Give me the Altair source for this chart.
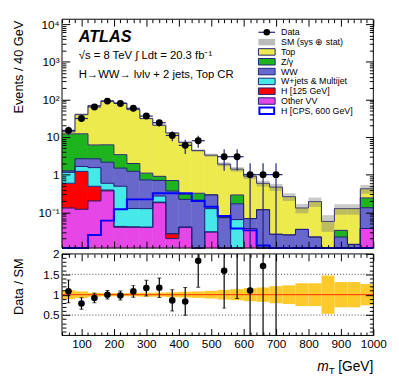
import math
import altair as alt
import pandas as pd

FONT = "Liberation Sans"
NAVY = "#20207a"

# ---------------- values ----------------
bin_lo = [40, 80, 120, 160, 200, 240, 280, 320, 360, 400, 440, 480,
          520, 560, 600, 640, 680, 720, 760, 800, 840, 880, 920, 960]
BIN_W = 40
data_n = [15, 31, 63, 90, 78, 58, 36, 24, 11, 6, 8, 0,
          3, 3, 1, 1, 1, 0, 0, 0, 0, 0, 0, 0]
comp_names = ["Other VV", "H [125 GeV]", "W+jets & Multijet", "WW", "Z/γ", "Top"]
comp_colors = ["#e646e6", "#ff0000", "#46e8e8", "#6868cc", "#1eb41e", "#ecea4c"]
other_vv = [0.13, 0.12, 0.20, 0.37, 0.04, 0.04, 0.04, 0.18, 0.02, 0.04, 0.0, 0.03,
            0.0, 0.0, 0.037, 0.0, 0.0, 0.0, 0.0, 0.0, 0.0, 0.0, 0.0, 0.037]
h125 = [0.46, 1.10, 0.29, 0.02, 0.002, 0.001, 0.0, 0.006, 0.007, 0.0, 0.0, 0.0,
        0.0, 0.0, 0.0, 0.0, 0.0, 0.0, 0.0, 0.0, 0.0, 0.0, 0.0, 0.0]
wjets = [0.56, 0.43, 1.05, 0.20, 0.45, 0.085, 0.085, 0.085, 0.0, 0.0, 0.0, 0.095,
         0.0, 0.064, 0.0, 0.0, 0.0, 0.0, 0.0, 0.0, 0.0, 0.0, 0.0, 0.0]
ww = [0.11, 1.0, 1.1, 1.55, 1.0, 1.1, 0.6, 0.43, 0.34, 0.18, 0.21, 0.165,
      0.072, 0.104, 0.031, 0.117, 0.026, 0.025, 0.035, 0.022, 0.0, 0.022, 0.014, 0.095]
zgam = [10.8, 9.5, 3.5, 4.05, 1.9, 0.75, 0.37, 0.2, 0.33, 0.08, 0.11, 0.0,
        0.0, 0.12, 0.0, 0.0, 0.0, 0.0, 0.0, 0.0, 0.0, 0.011, 0.0, 0.108]
top = [1.8, 27.5, 62.4, 83.8, 76.2, 51.7, 29.9, 19.6, 12.1, 6.9, 4.05, 3.0,
       1.82, 1.11, 0.84, 0.47, 0.44, 0.235, 0.095, 0.17, 0.057, 0.092, 0.111, 0.18]
h600 = [0.0, 0.0, 0.025, 0.06, 0.12, 0.22, 0.22, 0.32, 0.32, 0.32, 0.2, 0.14,
        0.08, 0.037, 0.033, 0.013, 0.0, 0.0, 0.0, 0.0, 0.0, 0.0, 0.0, 0.0]
sys_rel = [0.11, 0.08, 0.05, 0.04, 0.04, 0.04, 0.05, 0.05, 0.06, 0.07, 0.08, 0.095,
           0.12, 0.135, 0.16, 0.175, 0.21, 0.23, 0.28, 0.28, 0.47, 0.31, 0.31, 0.26]
legend_labels = ["Data", "SM (sys ⊕ stat)", "Top", "Z/γ", "WW", "W+jets & Multijet",
                 "H [125 GeV]", "Other VV", "H [CPS, 600 GeV]"]
x_major = [100, 200, 300, 400, 500, 600, 700, 800, 900, 1000]
y_major = [0.1, 1, 10, 100, 1000, 10000]
r_major = [0.5, 1, 1.5, 2]
r_grid = [0.5, 1, 1.5]
r_ref = [1.0]

# ---------------- layout ----------------
W, HM, HR = 317, 233, 83
YMIN, YMAX = 0.0112, 13500.0
FLOOR = 1e-4

nb = len(bin_lo)
comps = [other_vv, h125, wjets, ww, zgam, top]
total = [sum(c[i] for c in comps) for i in range(nb)]

stack_rows, line_rows = [], []
for k, c in enumerate(comps):
    hi = 0
    for i in range(nb):
        lo = sum(comps[j][i] for j in range(k))
        hi = lo + c[i]
        if c[i] > 0:
            stack_rows.append({"x": bin_lo[i], "x2": bin_lo[i] + BIN_W,
                               "y": max(lo, FLOOR), "y2": hi, "comp": comp_names[k]})
        line_rows.append({"x": bin_lo[i], "y": max(hi, FLOOR), "lvl": k})
    line_rows.append({"x": bin_lo[-1] + BIN_W, "y": max(hi, FLOOR), "lvl": k})
stack_df = pd.DataFrame(stack_rows)
line_df = pd.DataFrame(line_rows)

band_df = pd.DataFrame({"x": bin_lo, "x2": [b + BIN_W for b in bin_lo],
                        "y": [t * (1 - u) for t, u in zip(total, sys_rel)],
                        "y2": [t * (1 + u) for t, u in zip(total, sys_rel)],
                        "ry": [1 - u for u in sys_rel], "ry2": [1 + u for u in sys_rel]})
h6_df = pd.DataFrame({"x": bin_lo + [bin_lo[-1] + BIN_W],
                      "y": [max(v, FLOOR) for v in h600 + [h600[-1]]]})

drows = []
for i, nn in enumerate(data_n):
    if nn > 0:
        s = math.sqrt(nn)
        drows.append({"x": bin_lo[i] + BIN_W / 2, "xa": bin_lo[i], "xb": bin_lo[i] + BIN_W,
                      "n": nn, "lo": max(nn - s, FLOOR), "hi": nn + s,
                      "r": nn / total[i], "rlo": (nn - s) / total[i], "rhi": (nn + s) / total[i]})
data_df = pd.DataFrame(drows)
cap_df = pd.concat([data_df[["x", "rlo"]].rename(columns={"rlo": "c"}),
                    data_df[["x", "rhi"]].rename(columns={"rhi": "c"})])

xsc = alt.Scale(domain=[40, 1000], nice=False, zero=False)
ysc = alt.Scale(type="log", domain=[YMIN, YMAX], clamp=True, nice=False)
rsc = alt.Scale(domain=[0, 2], nice=False, zero=False)

x_minor = [v for v in range(40, 1001, 20) if v % 100]
y_minor = [m * 10 ** e for e in range(-2, 5) for m in range(2, 10) if YMIN <= m * 10 ** e <= YMAX]
r_minor = [round(0.1 * i, 1) for i in range(1, 20) if i % 5]


def tk(orient, values, size, **extra):
    d = dict(orient=orient, values=values, tickSize=size, offset=-size, labels=False,
             domain=False, grid=False, title=None, ticks=True, tickColor="black",
             tickWidth=1, zindex=1)
    d.update(extra)
    return alt.Axis(**d)


lab = dict(labels=True, labelFont=FONT, labelFontSize=12, labelColor="black",
           labelPadding=3, labelFlush=False, labelOverlap=False, labelBound=False)
ttl = dict(titleFont=FONT, titleFontSize=13, titleFontWeight="normal", titleColor="black",
           titleAngle=270, titleAlign="right", titleBaseline="middle", titleX=-52)

ylab_expr = ("datum.value < 0.5 ? '10⁻¹' : datum.value < 5 ? '1' : datum.value < 50 ? '10' : "
             "datum.value < 500 ? '10²' : datum.value < 5000 ? '10³' : '10⁴'")

one = pd.DataFrame({"k": [0]})


def frame(h):
    return alt.Chart(one).mark_rect(fill="transparent", stroke="black", strokeWidth=1).encode(
        x=alt.value(0), x2=alt.value(W), y=alt.value(0), y2=alt.value(h))


def text(txt, x, y, size, **kw):
    return alt.Chart(pd.DataFrame({"t": [txt]})).mark_text(
        align=kw.pop("align", "left"), baseline=kw.pop("baseline", "alphabetic"),
        font=FONT, fontSize=size, color="black", **kw).encode(
        text="t:N", x=alt.value(x), y=alt.value(y))


# ---------------- main panel ----------------
stack = alt.Chart(stack_df).mark_rect(strokeWidth=0.5).encode(
    x=alt.X("x:Q", scale=xsc, axis=tk("bottom", x_major, 7)),
    x2="x2:Q",
    y=alt.Y("y:Q", scale=ysc, axis=tk("left", y_major, 8, labelExpr=ylab_expr,
                                      title="Events / 40 GeV", titleY=1, **lab, **ttl)),
    y2="y2:Q",
    color=alt.Color("comp:N", scale=alt.Scale(domain=comp_names, range=comp_colors), legend=None),
    stroke=alt.Stroke("comp:N", scale=alt.Scale(domain=comp_names, range=comp_colors), legend=None),
)
outline = alt.Chart(line_df).mark_line(interpolate="step-after", color=NAVY, strokeWidth=1).encode(
    x=alt.X("x:Q", scale=xsc, axis=tk("bottom", x_minor, 3.5)),
    y=alt.Y("y:Q", scale=ysc, axis=tk("left", y_minor, 4)),
    detail="lvl:N",
)
band = alt.Chart(band_df).mark_rect(color="#7a7a7a", opacity=0.4).encode(
    x=alt.X("x:Q", scale=xsc, axis=tk("top", x_major, 7)),
    x2="x2:Q",
    y=alt.Y("y:Q", scale=ysc, axis=tk("right", y_major, 8)),
    y2="y2:Q",
)
hline = alt.Chart(h6_df).mark_line(interpolate="step-after", color="#0000ff", strokeWidth=2).encode(
    x=alt.X("x:Q", scale=xsc, axis=tk("top", x_minor, 3.5)),
    y=alt.Y("y:Q", scale=ysc, axis=tk("right", y_minor, 4)),
)
err_v = alt.Chart(data_df).mark_rule(color=NAVY, strokeWidth=1.2).encode(
    x=alt.X("x:Q", scale=xsc, axis=None),
    y=alt.Y("lo:Q", scale=ysc, axis=None), y2="hi:Q")
err_h = alt.Chart(data_df).mark_rule(color=NAVY, strokeWidth=1.2).encode(
    x=alt.X("xa:Q", scale=xsc, axis=None), x2="xb:Q",
    y=alt.Y("n:Q", scale=ysc, axis=None))
pts = alt.Chart(data_df).mark_circle(color="black", opacity=1, size=50).encode(
    x=alt.X("x:Q", scale=xsc, axis=None),
    y=alt.Y("n:Q", scale=ysc, axis=None))

texts = [
    text("ATLAS", 17, 23, 16.5, fontWeight="bold", fontStyle="italic"),
    text("√s = 8 TeV  ∫ Ldt =  20.3 fb⁻¹", 17, 40, 11.5),
    text("H→WW→ lνlν + 2 jets, Top CR", 17, 59.5, 11.5),
]

leg_df = pd.DataFrame({"label": legend_labels, "idx": list(range(len(legend_labels)))})
leg_base = alt.Chart(leg_df).transform_calculate(
    yc="13.3 + 10 * datum.idx", y0="13.3 + 10 * datum.idx - 3.3", y1="13.3 + 10 * datum.idx + 3.3")
leg_text = leg_base.mark_text(align="left", baseline="middle", font=FONT, fontSize=9, color="black").encode(
    text="label:N", x=alt.value(223), y=alt.Y("yc:Q", scale=None, axis=None))
box_fill = {"Top": comp_colors[5], "Z/γ": comp_colors[4], "WW": comp_colors[3],
            "W+jets & Multijet": comp_colors[2], "H [125 GeV]": comp_colors[1],
            "Other VV": comp_colors[0]}
leg_boxes = leg_base.transform_filter(
    alt.FieldOneOfPredicate(field="label", oneOf=list(box_fill))).mark_rect(
    stroke=NAVY, strokeWidth=1).encode(
    x=alt.value(200), x2=alt.value(217), y=alt.Y("y0:Q", scale=None, axis=None), y2="y1:Q",
    fill=alt.Fill("label:N", scale=alt.Scale(domain=list(box_fill), range=list(box_fill.values())),
                  legend=None))
leg_sm = leg_base.transform_filter("datum.idx == 1").mark_rect(color="#7a7a7a", opacity=0.5).encode(
    x=alt.value(200), x2=alt.value(217), y=alt.Y("y0:Q", scale=None, axis=None), y2="y1:Q")
leg_h6 = leg_base.transform_filter("datum.idx == 8").mark_rect(fill="white", stroke="#0000ff",
                                                               strokeWidth=2).encode(
    x=alt.value(201), x2=alt.value(216), y=alt.Y("y0:Q", scale=None, axis=None), y2="y1:Q")
leg_dl = leg_base.transform_filter("datum.idx == 0").mark_rule(color=NAVY, strokeWidth=1.2).encode(
    x=alt.value(200), x2=alt.value(217), y=alt.Y("yc:Q", scale=None, axis=None))
leg_dp = leg_base.transform_filter("datum.idx == 0").mark_circle(color="black", opacity=1, size=45).encode(
    x=alt.value(208.5), y=alt.Y("yc:Q", scale=None, axis=None))

main = alt.layer(stack, outline, band, hline, err_v, err_h, pts, frame(HM), *texts,
                 leg_sm, leg_boxes, leg_h6, leg_dl, leg_dp, leg_text).properties(
    width=W, height=HM).resolve_axis(x="independent", y="independent")

# ---------------- ratio panel ----------------
grid = alt.Chart(pd.DataFrame({"g": r_grid})).mark_rule(color="#444444", strokeDash=[1, 2], strokeWidth=1).encode(
    y=alt.Y("g:Q", scale=rsc, axis=None))
rband = alt.Chart(band_df).mark_rect(color="#fdca2c").encode(
    x=alt.X("x:Q", scale=xsc, axis=tk("bottom", x_major, 7, format="d", **lab)),
    x2="x2:Q",
    y=alt.Y("ry:Q", scale=rsc, axis=tk("left", r_major, 8, format="~g", title="Data / SM",
                                       titleY=4, **lab, **ttl)),
    y2="ry2:Q",
)
redline = alt.Chart(pd.DataFrame({"v": r_ref})).mark_rule(color="#ff2a00", strokeWidth=1).encode(
    y=alt.Y("v:Q", scale=rsc, axis=None))
rerr = alt.Chart(data_df).mark_rule(color="black", strokeWidth=1.2, clip=True).encode(
    x=alt.X("x:Q", scale=xsc, axis=tk("bottom", x_minor, 3.5)),
    y=alt.Y("rlo:Q", scale=rsc, axis=tk("left", r_minor, 4)), y2="rhi:Q")
rcap = alt.Chart(cap_df).mark_tick(color="black", orient="horizontal", size=4, thickness=1, clip=True).encode(
    x=alt.X("x:Q", scale=xsc, axis=tk("top", x_major, 7)),
    y=alt.Y("c:Q", scale=rsc, axis=tk("right", r_major, 8)))
rpts = alt.Chart(data_df).transform_filter("datum.r <= 2").mark_circle(
    color="black", opacity=1, size=45, clip=True).encode(
    x=alt.X("x:Q", scale=xsc, axis=tk("top", x_minor, 3.5)),
    y=alt.Y("r:Q", scale=rsc, axis=tk("right", r_minor, 4)))
xtitle = [
    text("m", 260, 119, 14, fontStyle="italic"),
    text("T", 271.5, 122, 10),
    text("[GeV]", W, 119, 14, align="right"),
]

ratio = alt.layer(grid, rband, redline, rerr, rcap, rpts, frame(HR), *xtitle).properties(
    width=W, height=HR).resolve_axis(x="independent", y="independent")

chart = alt.vconcat(main, ratio, spacing=6, bounds="flush").properties(
    padding={"left": 5, "top": 6, "right": 4, "bottom": 4},
    background="white",
).configure_view(stroke=None)

chart.save("out.html", embed_options={"renderer": "svg", "actions": False})
